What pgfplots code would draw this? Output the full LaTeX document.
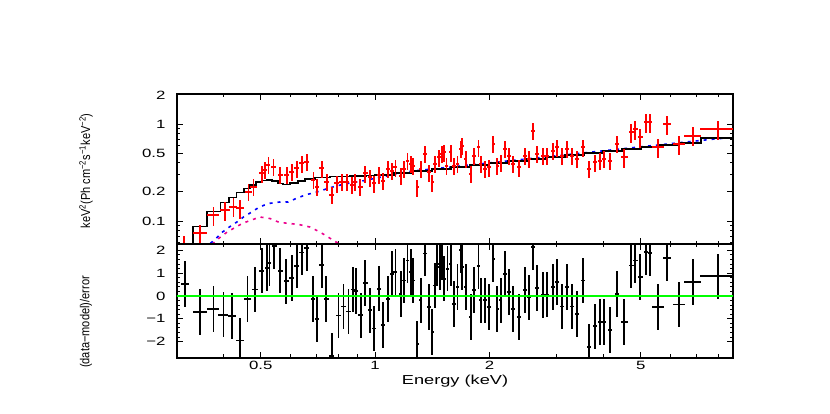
\documentclass[border=0pt]{standalone}
\usepackage{fontspec}
\setmainfont{Liberation Sans}
\newfontfamily\pgfont{Liberation Sans}[FakeStretch=1.4]
\newfontfamily\nrfont{Liberation Sans}[FakeStretch=0.85]
\usepackage{pgfplots}
\usepackage{pgfplotstable}
\pgfplotsset{compat=1.18}

\pgfplotstableread{
E V rx ry
0.3144 0.057 0.025 0.24
0.3463 0.0752 0.042 0.22
0.3754 0.1153 0.036 0.22
0.4030 0.1298 0.030 0.22
0.4237 0.1404 0.025 0.22
0.4413 0.1352 0.025 0.22
0.4641 0.2005 0.020 0.2
0.4783 0.2258 0.020 0.2
0.5033 0.3102 0.015 0.2
0.5135 0.3355 0.012 0.2
0.5239 0.3779 0.012 0.2
0.5400 0.3629 0.015 0.2
0.5623 0.2979 0.015 0.2
0.5855 0.2979 0.015 0.2
0.6035 0.3222 0.015 0.2
0.6220 0.3494 0.015 0.2
0.6413 0.3934 0.015 0.2
0.6612 0.4087 0.015 0.2
0.6882 0.2647 0.012 0.2
0.7026 0.2258 0.012 0.2
0.7241 0.3494 0.015 0.2
0.7464 0.2542 0.015 0.2
0.7693 0.1854 0.015 0.2
0.7929 0.2447 0.015 0.2
0.8174 0.2542 0.015 0.2
0.8424 0.2542 0.015 0.2
0.8683 0.2350 0.012 0.2
0.8857 0.2542 0.012 0.2
0.9131 0.2258 0.015 0.2
0.9412 0.3102 0.015 0.2
0.9685 0.2821 0.012 0.2
0.9940 0.2447 0.012 0.2
1.0245 0.3001 0.012 0.2
1.0497 0.2602 0.012 0.2
1.0820 0.3437 0.012 0.2
1.1085 0.3301 0.012 0.2
1.1309 0.3578 0.012 0.2
1.1685 0.2931 0.010 0.2
1.1922 0.3437 0.010 0.2
1.2162 0.4185 0.010 0.2
1.2414 0.3870 0.010 0.2
1.2589 0.3716 0.010 0.2
1.2921 0.2226 0.010 0.2
1.3192 0.3437 0.010 0.2
1.3539 0.4905 0.010 0.2
1.3871 0.3177 0.010 0.2
1.4151 0.2506 0.010 0.2
1.4385 0.3870 0.010 0.2
1.4738 0.4536 0.010 0.2
1.4981 0.4905 0.010 0.2
1.5192 0.5107 0.010 0.2
1.5405 0.3716 0.010 0.2
1.5821 0.5107 0.010 0.2
1.6141 0.3716 0.010 0.2
1.6468 0.3870 0.010 0.2
1.6809 0.5525 0.010 0.2
1.6973 0.5975 0.010 0.2
1.7328 0.4357 0.010 0.2
1.7859 0.3051 0.010 0.2
1.8221 0.4711 0.010 0.2
1.8702 0.5751 0.010 0.2
1.8979 0.3870 0.010 0.2
1.9481 0.3437 0.010 0.2
1.9953 0.3578 0.010 0.2
2.0479 0.6221 0.010 0.2
2.0980 0.3716 0.010 0.2
2.1419 0.4029 0.010 0.2
2.1984 0.5525 0.010 0.2
2.2522 0.4711 0.010 0.2
2.3116 0.3870 0.012 0.2
2.3973 0.3578 0.012 0.2
2.4816 0.4711 0.012 0.2
2.5473 0.4357 0.012 0.2
2.6096 0.8530 0.012 0.2
2.6734 0.4905 0.012 0.2
2.7624 0.4711 0.012 0.2
2.8405 0.4711 0.012 0.2
2.9349 0.5305 0.012 0.2
3.0073 0.5751 0.012 0.2
3.0994 0.4711 0.012 0.2
3.1950 0.5525 0.012 0.2
3.2930 0.4711 0.012 0.2
3.3944 0.4357 0.012 0.2
3.5331 0.5751 0.012 0.2
3.6636 0.3437 0.012 0.2
3.7931 0.4029 0.012 0.2
3.9096 0.4185 0.012 0.2
4.0128 0.4357 0.012 0.2
4.1537 0.4185 0.012 0.2
4.3414 0.6221 0.012 0.2
4.5305 0.4536 0.022 0.22
4.7183 0.8210 0.015 0.22
4.8336 0.8882 0.015 0.22
4.9909 0.7293 0.015 0.22
5.1664 1.0411 0.012 0.22
5.3026 1.0411 0.012 0.22
5.5656 0.5751 0.036 0.22
5.8667 1.0000 0.025 0.22
6.3212 0.6221 0.037 0.22
6.8566 0.7575 0.050 0.22
7.9760 0.8882 0.100 0.22
}\topdata

\pgfplotstableread{
E R rx
0.3162 0.53 0.025
0.3463 -0.70 0.042
0.3754 -0.56 0.036
0.3989 -0.82 0.030
0.4196 -0.89 0.025
0.4413 -1.95 0.025
0.4612 -0.12 0.020
0.4833 0.28 0.020
0.5033 1.11 0.015
0.5188 1.23 0.012
0.5270 1.45 0.012
0.5423 2.18 0.015
0.5623 1.11 0.015
0.5831 0.64 0.015
0.6035 0.79 0.015
0.6220 1.33 0.015
0.6413 1.91 0.015
0.6612 2.11 0.015
0.6857 -0.12 0.012
0.7026 -1.00 0.012
0.7241 1.36 0.015
0.7431 -0.13 0.015
0.7693 -2.62 0.015
0.8006 -0.86 0.015
0.8253 -0.46 0.015
0.8506 -0.68 0.015
0.8735 0.28 0.012
0.8913 0.23 0.012
0.9170 -0.85 0.015
0.9412 0.57 0.015
0.9685 -0.63 0.012
0.9940 -1.43 0.012
1.0245 0.32 0.012
1.0497 -1.26 0.012
1.0820 -0.12 0.012
1.1085 0.98 0.012
1.1309 1.05 0.012
1.1685 0.10 0.010
1.1922 0.68 0.010
1.2162 1.56 0.010
1.2414 1.05 0.010
1.2589 0.68 0.010
1.2921 -2.09 0.010
1.3192 -0.19 0.010
1.3539 1.86 0.010
1.3871 -0.48 0.010
1.4151 -1.58 0.010
1.4385 0.46 0.010
1.4585 1.42 0.010
1.4804 1.27 0.010
1.4981 1.71 0.010
1.5192 0.76 0.010
1.5501 1.20 0.010
1.5821 1.42 0.010
1.6141 -0.34 0.010
1.6468 0.39 0.010
1.6809 2.00 0.010
1.6973 1.27 0.010
1.7328 0.39 0.010
1.7859 -0.92 0.010
1.8221 0.25 0.010
1.8702 1.30 0.010
1.8979 -0.19 0.010
1.9481 -0.19 0.010
1.9953 -0.48 0.010
2.0479 1.63 0.010
2.0980 -0.56 0.010
2.1419 -0.19 0.010
2.1984 0.98 0.010
2.2522 0.18 0.010
2.3116 -0.56 0.012
2.3973 -0.92 0.012
2.4816 0.25 0.012
2.5473 -0.07 0.012
2.6096 2.15 0.012
2.6734 0.36 0.012
2.7624 0.03 0.012
2.8405 0.06 0.012
2.9349 0.39 0.012
3.0073 0.61 0.012
3.0994 -0.46 0.012
3.1950 0.39 0.012
3.2930 -0.46 0.012
3.3944 -0.78 0.012
3.5331 0.68 0.012
3.6636 -2.24 0.012
3.7931 -1.33 0.012
3.9096 -1.14 0.012
4.0128 -1.14 0.012
4.1537 -1.48 0.012
4.3414 0.10 0.012
4.5305 -1.14 0.022
4.7183 1.34 0.015
4.8336 1.56 0.015
4.9909 0.83 0.015
5.1664 1.93 0.012
5.3026 1.89 0.012
5.5656 -0.48 0.036
5.8667 1.67 0.025
6.3212 -0.37 0.037
6.8566 0.61 0.050
7.9760 0.86 0.100
}\resdata

\begin{document}
\begin{tikzpicture}
\path[use as bounding box] (0bp,0bp) rectangle (830bp,414bp);
\begin{axis}[at={(177bp,170bp)}, anchor=south west,
  scale only axis, width=556bp, height=150bp,
  xmode=log, ymode=log, xmin=0.301, xmax=8.75, ymin=0.058, ymax=2.04,
  axis line style={line width=1.4bp},
  tick align=inside, xtick pos=both, ytick pos=both,
  major tick length=6bp, minor tick length=3.5bp,
  tick style={black, line width=1bp},
  tick label style={font=\pgfont\fontsize{12bp}{13bp}\selectfont},
  yticklabel style={xshift=-8bp},
  xtick={0.5,1,2,5}, minor xtick={0.4,0.6,0.7,0.8,0.9,3,4,6,7,8},
  xticklabels={,,,},
  ytick={0.1,0.2,0.5,1,2}, yticklabels={0.1,0.2,0.5,1,2},
  minor ytick={0.06,0.07,0.08,0.09,0.3,0.4,0.6,0.7,0.8,0.9}]
\addplot[magenta, line width=1.6bp, dash pattern=on 3bp off 5bp] coordinates {
(0.3725,0.0579) (0.3886,0.0668) (0.4078,0.0770) (0.4255,0.0847) (0.4467,0.0942)
(0.4718,0.1024) (0.4982,0.1100) (0.5293,0.1061) (0.5589,0.0970) (0.5903,0.0947)
(0.6310,0.0920) (0.6745,0.0867) (0.7079,0.0788) (0.7454,0.0701) (0.7847,0.0615)
(0.8091,0.0579) (0.8340,0.0520)};
\addplot[blue, line width=1.6bp, dash pattern=on 3bp off 5bp] coordinates {
(0.3686,0.0589) (0.3823,0.0668) (0.3957,0.0765) (0.4121,0.0861) (0.4315,0.0970)
(0.4513,0.1107) (0.4718,0.1229) (0.4943,0.1384) (0.5230,0.1515) (0.5681,0.1581)
(0.5903,0.1570) (0.6214,0.1718) (0.6603,0.1876) (0.7017,0.1991) (0.7431,0.2138)
(0.7922,0.2306) (0.8414,0.2429) (0.8939,0.2524) (0.9526,0.2647) (1.0078,0.2776)
(1.0820,0.2931) (1.1495,0.3103) (1.259,0.3279) (1.413,0.3440) (1.585,0.3609)
(1.778,0.3786) (1.995,0.3972) (2.239,0.4167) (2.512,0.4371) (2.818,0.4585)
(3.162,0.4810) (3.548,0.5047) (3.981,0.5294) (4.467,0.5554) (5.012,0.5826)
(5.623,0.6112) (6.310,0.6412) (7.079,0.6726) (7.943,0.7056) (8.75,0.724)};
\addplot[black, line width=1.6bp, const plot] coordinates {
(0.30,0.04) (0.3314,0.0882) (0.3613,0.1259) (0.3916,0.1559) (0.4121,0.1755)
(0.4315,0.1976) (0.4513,0.2174) (0.4683,0.2367) (0.4863,0.2524) (0.5043,0.2615)
(0.5198,0.2647) (0.5357,0.2585) (0.5557,0.2435) (0.5727,0.2378) (0.5975,0.2464)
(0.6270,0.2585) (0.6543,0.2710) (0.6954,0.2809) (0.7614,0.2876) (0.8594,0.2910)
(0.95,0.295) (1.0,0.298) (1.122,0.3126) (1.259,0.3279) (1.413,0.3440) (1.585,0.3609)
(1.778,0.3786) (1.995,0.3972) (2.239,0.4167) (2.512,0.4371) (2.818,0.4585)
(3.162,0.4810) (3.548,0.5047) (3.981,0.5294) (4.467,0.5554) (5.012,0.5826)
(5.623,0.6112) (6.310,0.6412) (7.2,0.717) (8.75,0.717)};
\addplot[draw=none, mark=none,
  error bars/.cd, x dir=both, x explicit relative, y dir=both, y explicit relative,
  error mark=none, error bar style={draw=red, line width=1.8bp}]
  table[x=E, y=V, x error=rx, y error=ry] {\topdata};
\end{axis}

\begin{axis}[at={(177bp,56bp)}, anchor=south west,
  scale only axis, width=556bp, height=114bp,
  xmode=log, xmin=0.301, xmax=8.75, ymin=-2.72, ymax=2.28,
  axis line style={line width=1.4bp},
  tick align=inside, xtick pos=both, ytick pos=both,
  major tick length=6bp, minor tick length=3.5bp,
  tick style={black, line width=1bp},
  tick label style={font=\pgfont\fontsize{12bp}{13bp}\selectfont},
  yticklabel style={xshift=-8bp},
  xtick={0.5,1,2,5}, minor xtick={0.4,0.6,0.7,0.8,0.9,3,4,6,7,8},
  xticklabels={0.5,1,2,5},
  ytick={-2,-1,0,1,2}, yticklabels={−2,−1,0,1,2},
  minor y tick num=4]
\addplot[draw=none, mark=none,
  error bars/.cd, x dir=both, x explicit relative, y dir=both, y fixed=1,
  error mark=none, error bar style={draw=black, line width=1.8bp}]
  table[x=E, y=R, x error=rx] {\resdata};
\addplot[color={rgb,255:red,0;green,255;blue,0}, line width=1.4bp] coordinates {(0.25,0) (10,0)};
\end{axis}

\node[rotate=90, font=\nrfont\fontsize{13bp}{15bp}\selectfont] at (86bp,243bp)
  {keV\textsuperscript{2}(Ph cm\textsuperscript{−2}s\textsuperscript{−1}keV\textsuperscript{−2})};
\node[rotate=90, font=\nrfont\fontsize{13bp}{15bp}\selectfont] at (86bp,92bp)
  {(data−model)/error};
\node[font=\pgfont\fontsize{13bp}{15bp}\selectfont] at (455bp,32.5bp) {Energy (keV)};
\end{tikzpicture}
\end{document}
